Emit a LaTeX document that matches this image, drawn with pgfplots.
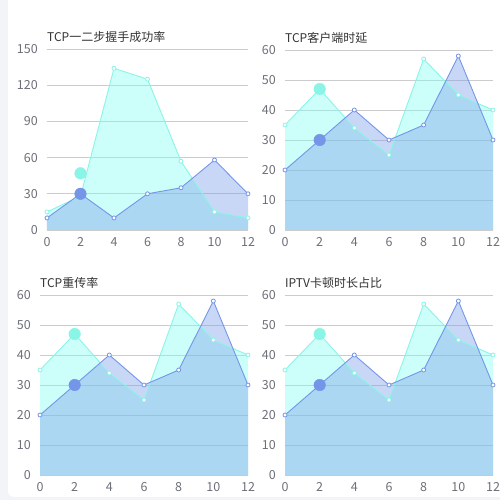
\documentclass[border=0pt]{standalone}
\usepackage{fontspec}
\setmainfont{Noto Sans CJK SC}
\usepackage{pgfplots}
\usepackage{pgfplotstable}
\pgfplotsset{compat=1.18}

\definecolor{blueline}{HTML}{7596E8}
\definecolor{cyanline}{HTML}{8AF5E6}
\definecolor{bluefill}{HTML}{7A9BEB}
\definecolor{cyanfill}{HTML}{80FFF0}
\definecolor{gridc}{HTML}{CCCCCC}
\definecolor{tickc}{HTML}{6E7079}
\definecolor{titlec}{HTML}{333333}
\definecolor{bgc}{HTML}{F3F4F8}

% panel 1
\pgfplotstableread{
x blue cyan
0 10 15
2 30 28
4 10 134
6 30 125
8 35 57
10 58 15
12 30 10
}\handshake
% panels 2-4
\pgfplotstableread{
x blue cyan
0 20 35
2 30 47
4 40 34
6 30 25
8 35 57
10 58 45
12 30 40
}\common

\pgfplotsset{
  panel/.style={
    scale only axis,
    xmin=0, xmax=12, ymin=0,
    xtick={0,2,...,12},
    axis line style={draw=none},
    tick style={draw=none},
    ymajorgrids,
    grid style={gridc, line width=0.8pt},
    clip=false,
    /pgf/number format/assume math mode=true,
    ticklabel style={tickc, font=\fontsize{12.5}{14}\selectfont, inner sep=0pt},
    xticklabel style={anchor=base, yshift=-16.5pt},
    yticklabel style={anchor=east, xshift=-9pt},
  },
  areafill/.style={draw=none, fill=#1, fill opacity=0.4, forget plot},
  serie/.style={#1, line width=0.9pt, mark=*, mark size=2pt,
    mark options={fill=white, draw=#1, line width=0.8pt}},
  bigdot/.style={#1, only marks, mark=*, mark size=5.8pt,
    mark options={draw=#1, fill=#1}},
}

\newcommand\areas[1]{%
  \addplot[areafill=cyanfill] table[x=x, y=cyan] {#1} \closedcycle;
  \addplot[areafill=bluefill] table[x=x, y=blue] {#1} \closedcycle;
  \addplot[serie=cyanline] table[x=x, y=cyan] {#1};
  \addplot[serie=blueline] table[x=x, y=blue] {#1};
  \addplot[bigdot=cyanline] coordinates {(2,47)};
  \addplot[bigdot=blueline] coordinates {(2,30)};
}

\newcommand\paneltitle[1]{%
  \node[anchor=west, inner sep=0pt, text=titlec,
    font=\fontsize{12}{14}\selectfont]
    at (rel axis cs:0,1) [yshift=12pt] {#1};
}

\begin{document}
\begin{tikzpicture}[x=1pt, y=1pt]
\useasboundingbox (0,0) rectangle (500,500);
\fill[bgc] (0,0) rectangle (500,500);
\fill[white, rounded corners=6pt] (8,3) rectangle (520,520);

\begin{axis}[panel, at={(47pt,270pt)}, anchor=south west,
  width=201pt, height=181pt, ymax=150, ytick={0,30,...,150}]
\areas{\handshake}
\paneltitle{TCP一二步握手成功率}
\end{axis}

\begin{axis}[panel, at={(285pt,270pt)}, anchor=south west,
  width=208pt, height=180pt, ymax=60, ytick={0,10,...,60}]
\areas{\common}
\paneltitle{TCP客户端时延}
\end{axis}

\begin{axis}[panel, at={(40pt,25pt)}, anchor=south west,
  width=208pt, height=180pt, ymax=60, ytick={0,10,...,60}]
\areas{\common}
\paneltitle{TCP重传率}
\end{axis}

\begin{axis}[panel, at={(285pt,25pt)}, anchor=south west,
  width=208pt, height=180pt, ymax=60, ytick={0,10,...,60}]
\areas{\common}
\paneltitle{IPTV卡顿时长占比}
\end{axis}
\end{tikzpicture}
\end{document}
